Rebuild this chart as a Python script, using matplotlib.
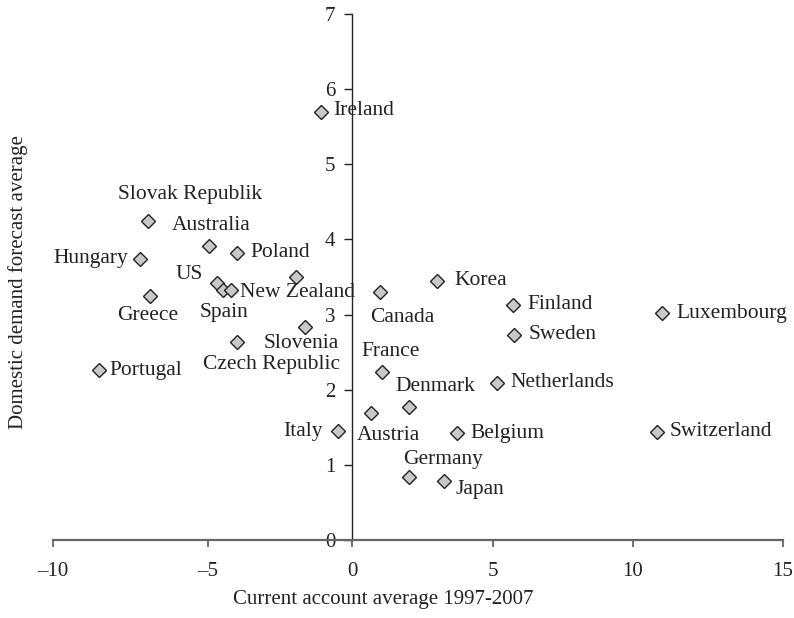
import matplotlib
matplotlib.use("Agg")
import matplotlib.pyplot as plt
import numpy as np

countries = ["Ireland", "Slovak Republik", "Australia", "Poland", "Hungary", "US",
             "Spain", "New Zealand", "", "Greece", "Slovenia", "Czech Republic",
             "Portugal", "Italy", "Canada", "Korea", "Finland", "Sweden",
             "Luxembourg", "France", "Netherlands", "Denmark", "Austria",
             "Belgium", "Switzerland", "Germany", "Japan"]
current_account = [-1.08, -6.94, -4.97, -3.99, -7.19, -4.69,
                   -4.48, -4.20, -1.94, -6.87, -1.63, -3.99,
                   -8.52, -0.49, 0.99, 3.01, 5.71, 5.75,
                   10.97, 1.06, 5.14, 2.02, 0.67,
                   3.72, 10.80, 2.02, 3.26]
domestic_demand = [5.69, 4.25, 3.91, 3.82, 3.74, 3.42,
                   3.33, 3.33, 3.50, 3.25, 2.83, 2.64,
                   2.26, 1.45, 3.30, 3.45, 3.13, 2.73,
                   3.02, 2.24, 2.09, 1.77, 1.69,
                   1.42, 1.44, 0.84, 0.79]
x_ticks = [-10, -5, 0, 5, 10, 15]
x_tick_labels = ["\u201310", "\u20135", "0", "5", "10", "15"]
y_ticks = [0, 1, 2, 3, 4, 5, 6, 7]

# slightly uneven horizontal scale of the printed figure (tick value -> relative position)
scale_vals = [-10, -5, 0, 5, 10, 15]
scale_pos = [0, 155, 299, 440, 580, 730]

# label placement (offset in pixels, horizontal alignment)
label_style = {
    "Ireland": (12, 2, "left"),
    "Slovak Republik": (42, 26, "center"),
    "Australia": (2, 21, "center"),
    "Poland": (13, 0, "left"),
    "Hungary": (-12, 0, "right"),
    "US": (-14, 9, "right"),
    "Spain": (1, -23, "center"),
    "New Zealand": (9, -3, "left"),
    "Greece": (-2, -20, "center"),
    "Slovenia": (-4, -16, "center"),
    "Czech Republic": (34, -23, "center"),
    "Portugal": (11, 0, "left"),
    "Italy": (-15, 0, "right"),
    "Canada": (22, -25, "center"),
    "Korea": (18, 0, "left"),
    "Finland": (15, 0, "left"),
    "Sweden": (15, 0, "left"),
    "Luxembourg": (14, 0, "left"),
    "France": (9, 20, "center"),
    "Netherlands": (14, 0, "left"),
    "Denmark": (26, 20, "center"),
    "Austria": (18, -22, "center"),
    "Belgium": (14, 0, "left"),
    "Switzerland": (13, 0, "left"),
    "Germany": (34, 17, "center"),
    "Japan": (12, -9, "left"),
}

plt.rcParams['font.family'] = ['Liberation Serif', 'DejaVu Serif']

fig = plt.figure(figsize=(7.94, 6.18), dpi=100)
ax = fig.add_axes([53/794, 1-540/618, 730/794, 526/618])

sv = np.array(scale_vals, dtype=float)
sp = np.array(scale_pos, dtype=float)


def fwd(v):
    v = np.asarray(v, dtype=float)
    lo = (v - sv[0]) * (sp[1] - sp[0]) / (sv[1] - sv[0]) + sp[0]
    hi = (v - sv[-1]) * (sp[-1] - sp[-2]) / (sv[-1] - sv[-2]) + sp[-1]
    return np.where(v < sv[0], lo, np.where(v > sv[-1], hi, np.interp(v, sv, sp)))


def inv(p):
    p = np.asarray(p, dtype=float)
    lo = (p - sp[0]) * (sv[1] - sv[0]) / (sp[1] - sp[0]) + sv[0]
    hi = (p - sp[-1]) * (sv[-1] - sv[-2]) / (sp[-1] - sp[-2]) + sv[-1]
    return np.where(p < sp[0], lo, np.where(p > sp[-1], hi, np.interp(p, sp, sv)))


ax.set_xscale("function", functions=(fwd, inv))

ax.plot(current_account, domestic_demand, linestyle="none", marker="D",
        markersize=7.5, markerfacecolor="#c8c8c8", markeredgecolor="#222222",
        markeredgewidth=1.0, zorder=3)

for name, x, y in zip(countries, current_account, domestic_demand):
    if not name:
        continue
    dx, dy, ha = label_style[name]
    ax.annotate(name, (x, y), xytext=(dx, dy), textcoords="offset pixels",
                ha=ha, va="center", fontsize=15.5, color="#222222")

ax.set_xlim(-10, 15)
ax.set_ylim(0, 7)
ax.set_xticks(x_ticks)
ax.set_xticklabels(x_tick_labels)
ax.minorticks_off()
ax.set_yticks(y_ticks)

ax.spines["top"].set_visible(False)
ax.spines["right"].set_visible(False)
ax.spines["left"].set_position(("data", 0))
ax.spines["bottom"].set_position(("data", 0))
ax.spines["left"].set_color("#222222")
ax.spines["left"].set_linewidth(1.0)
ax.spines["bottom"].set_color("#666666")
ax.spines["bottom"].set_linewidth(1.6)

ax.tick_params(axis="x", direction="out", length=5, width=1.3, colors="#666666",
               labelcolor="#222222", labelsize=15, pad=11)
ax.tick_params(axis="y", direction="out", length=6, width=1.0, colors="#222222",
               labelsize=15, pad=6)

ax.set_xlabel("Current account average 1997-2007", fontsize=15, color="#222222")
ax.xaxis.set_label_coords(0.453, -0.095)
fig.text(18/794, 1-282/618, "Domestic demand forecast average", rotation=90,
         ha="center", va="center", fontsize=15, color="#222222")

fig.savefig("out.png", dpi=100)
